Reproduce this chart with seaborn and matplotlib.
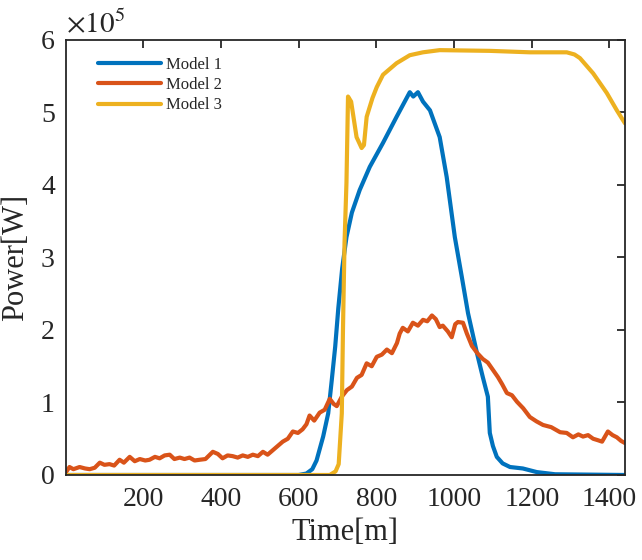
import numpy as np
import pandas as pd
import matplotlib
import matplotlib.pyplot as plt
import seaborn as sns
from matplotlib.ticker import FuncFormatter

matplotlib.use("Agg")

# Colors (MATLAB default order)
c_m1 = "#0072BD"
c_m2 = "#D95319"
c_m3 = "#EDB120"

# Model 1 (blue)
t1 = [1, 600, 620, 635, 646, 663, 676, 685, 694, 702, 712, 723, 737, 757, 783, 817, 852, 886,
      895, 907, 920, 938, 963, 981, 1002, 1020, 1036, 1059, 1074, 1087, 1092, 1100, 1110, 1125,
      1144, 1177, 1213, 1260, 1440]
p1 = [0, 0, 0.02, 0.08, 0.2, 0.53, 0.85, 1.3, 1.77, 2.3, 2.85, 3.28, 3.62, 3.93, 4.25, 4.58, 4.94, 5.28,
      5.22, 5.28, 5.15, 5.03, 4.66, 4.11, 3.28, 2.73, 2.23, 1.68, 1.35, 1.08, 0.58, 0.4, 0.25, 0.16,
      0.11, 0.09, 0.04, 0.01, 0.0]

# Model 2 (orange)
t2 = [1, 10, 20, 36, 50, 62, 75, 88, 100, 113, 125, 139, 150, 165, 178, 191, 205, 216, 230, 242,
      255, 268, 280, 294, 306, 319, 332, 345, 360, 379, 392, 404, 417, 430, 443, 456, 469, 482, 495, 508,
      520, 533, 546, 559, 572, 585, 598, 610, 620, 628, 640, 654, 667, 680, 690, 698, 711, 724, 737, 750,
      762, 775, 788, 801, 814, 827, 840, 853, 860, 868, 881, 894, 907, 920, 931, 943, 953, 963, 971, 984,
      994, 1003, 1010, 1023, 1033, 1046, 1060, 1074, 1087, 1100, 1113, 1124, 1136, 1149, 1162, 1178, 1195, 1212, 1229, 1250,
      1273, 1290, 1306, 1320, 1332, 1345, 1358, 1370, 1381, 1396, 1408, 1419, 1430, 1440]
p2 = [0.04, 0.11, 0.08, 0.11, 0.09, 0.08, 0.10, 0.17, 0.14, 0.15, 0.13, 0.21, 0.17, 0.25, 0.19, 0.22, 0.20, 0.21, 0.25, 0.23,
      0.27, 0.28, 0.22, 0.24, 0.22, 0.24, 0.20, 0.21, 0.22, 0.32, 0.29, 0.23, 0.27, 0.26, 0.24, 0.27, 0.25, 0.28, 0.26, 0.32,
      0.28, 0.34, 0.40, 0.46, 0.50, 0.60, 0.58, 0.63, 0.70, 0.82, 0.75, 0.86, 0.90, 1.05, 0.98, 0.95, 1.08, 1.17, 1.22, 1.34,
      1.38, 1.54, 1.50, 1.63, 1.66, 1.73, 1.68, 1.82, 1.95, 2.03, 1.98, 2.10, 2.06, 2.14, 2.12, 2.20, 2.15, 2.04, 2.06, 1.98,
      1.90, 2.08, 2.11, 2.10, 1.95, 1.78, 1.68, 1.60, 1.55, 1.45, 1.35, 1.25, 1.13, 1.10, 1.01, 0.92, 0.80, 0.74, 0.69, 0.66,
      0.59, 0.58, 0.52, 0.56, 0.53, 0.55, 0.50, 0.48, 0.46, 0.60, 0.55, 0.52, 0.47, 0.44]

# Model 3 (yellow)
t3 = [1, 680, 695, 703, 711, 714, 718, 723, 727, 735, 749, 762, 768, 775, 790, 801, 817, 852, 886,
      920, 963, 1092, 1195, 1290, 1310, 1324, 1358, 1393, 1419, 1440]
p3 = [0, 0, 0.05, 0.15, 0.85, 2.0, 3.2, 4.03, 5.22, 5.15, 4.66, 4.51, 4.55, 4.94, 5.2, 5.35, 5.52, 5.68, 5.79,
      5.83, 5.86, 5.85, 5.83, 5.83, 5.8, 5.75, 5.54, 5.27, 5.03, 4.85]

labels = ["Model 1", "Model 2", "Model 3"]
xticks = [200, 400, 600, 800, 1000, 1200, 1400]
yticks = [0, 1, 2, 3, 4, 5, 6]

sns.set_style("white")
plt.rcParams['font.family'] = ['Liberation Serif', 'DejaVu Serif']
plt.rcParams['mathtext.fontset'] = 'stix'

fig = plt.figure(figsize=(6.42, 5.6), dpi=100)
ax = fig.add_axes([0.1028, 0.1518, 0.8707, 0.7768])

lw = 3.0
for t, p, c, lab in [(t1, p1, c_m1, labels[0]), (t2, p2, c_m2, labels[1]), (t3, p3, c_m3, labels[2])]:
    df = pd.DataFrame({"t": t, "p": np.array(p) * 1e5})
    sns.lineplot(data=df, x="t", y="p", color=c, linewidth=lw, label=lab, ax=ax, sort=False)

ax.set_xlim(1, 1440)
ax.set_ylim(0, 6e5)
ax.set_xticks(xticks)
ax.set_yticks([v * 1e5 for v in yticks])
ax.yaxis.set_major_formatter(FuncFormatter(lambda v, pos: f"{v / 1e5:g}"))
ax.tick_params(direction="in", length=6, width=1.3, top=True, right=True,
               labelsize=20, colors="#262626")
ax.tick_params(axis="x", pad=9)
ax.tick_params(axis="y", pad=8)
for s in ax.spines.values():
    s.set_visible(True)
    s.set_color("#262626")
    s.set_linewidth(1.3)

ax.set_xlabel("Time[m]", fontsize=22, color="#262626", labelpad=4)
ax.set_ylabel("Power[W]", fontsize=22, color="#262626", labelpad=8)
ax.text(0.0, 1.005, r"$\times10^5$", transform=ax.transAxes, fontsize=21,
        ha="left", va="bottom", color="#262626")

ax.legend(loc="upper left", bbox_to_anchor=(0.03, 0.995), frameon=False,
          handlelength=3.8, fontsize=12, labelspacing=0.25, handletextpad=0.3)

plt.savefig("out.png", dpi=100)
plt.close(fig)
